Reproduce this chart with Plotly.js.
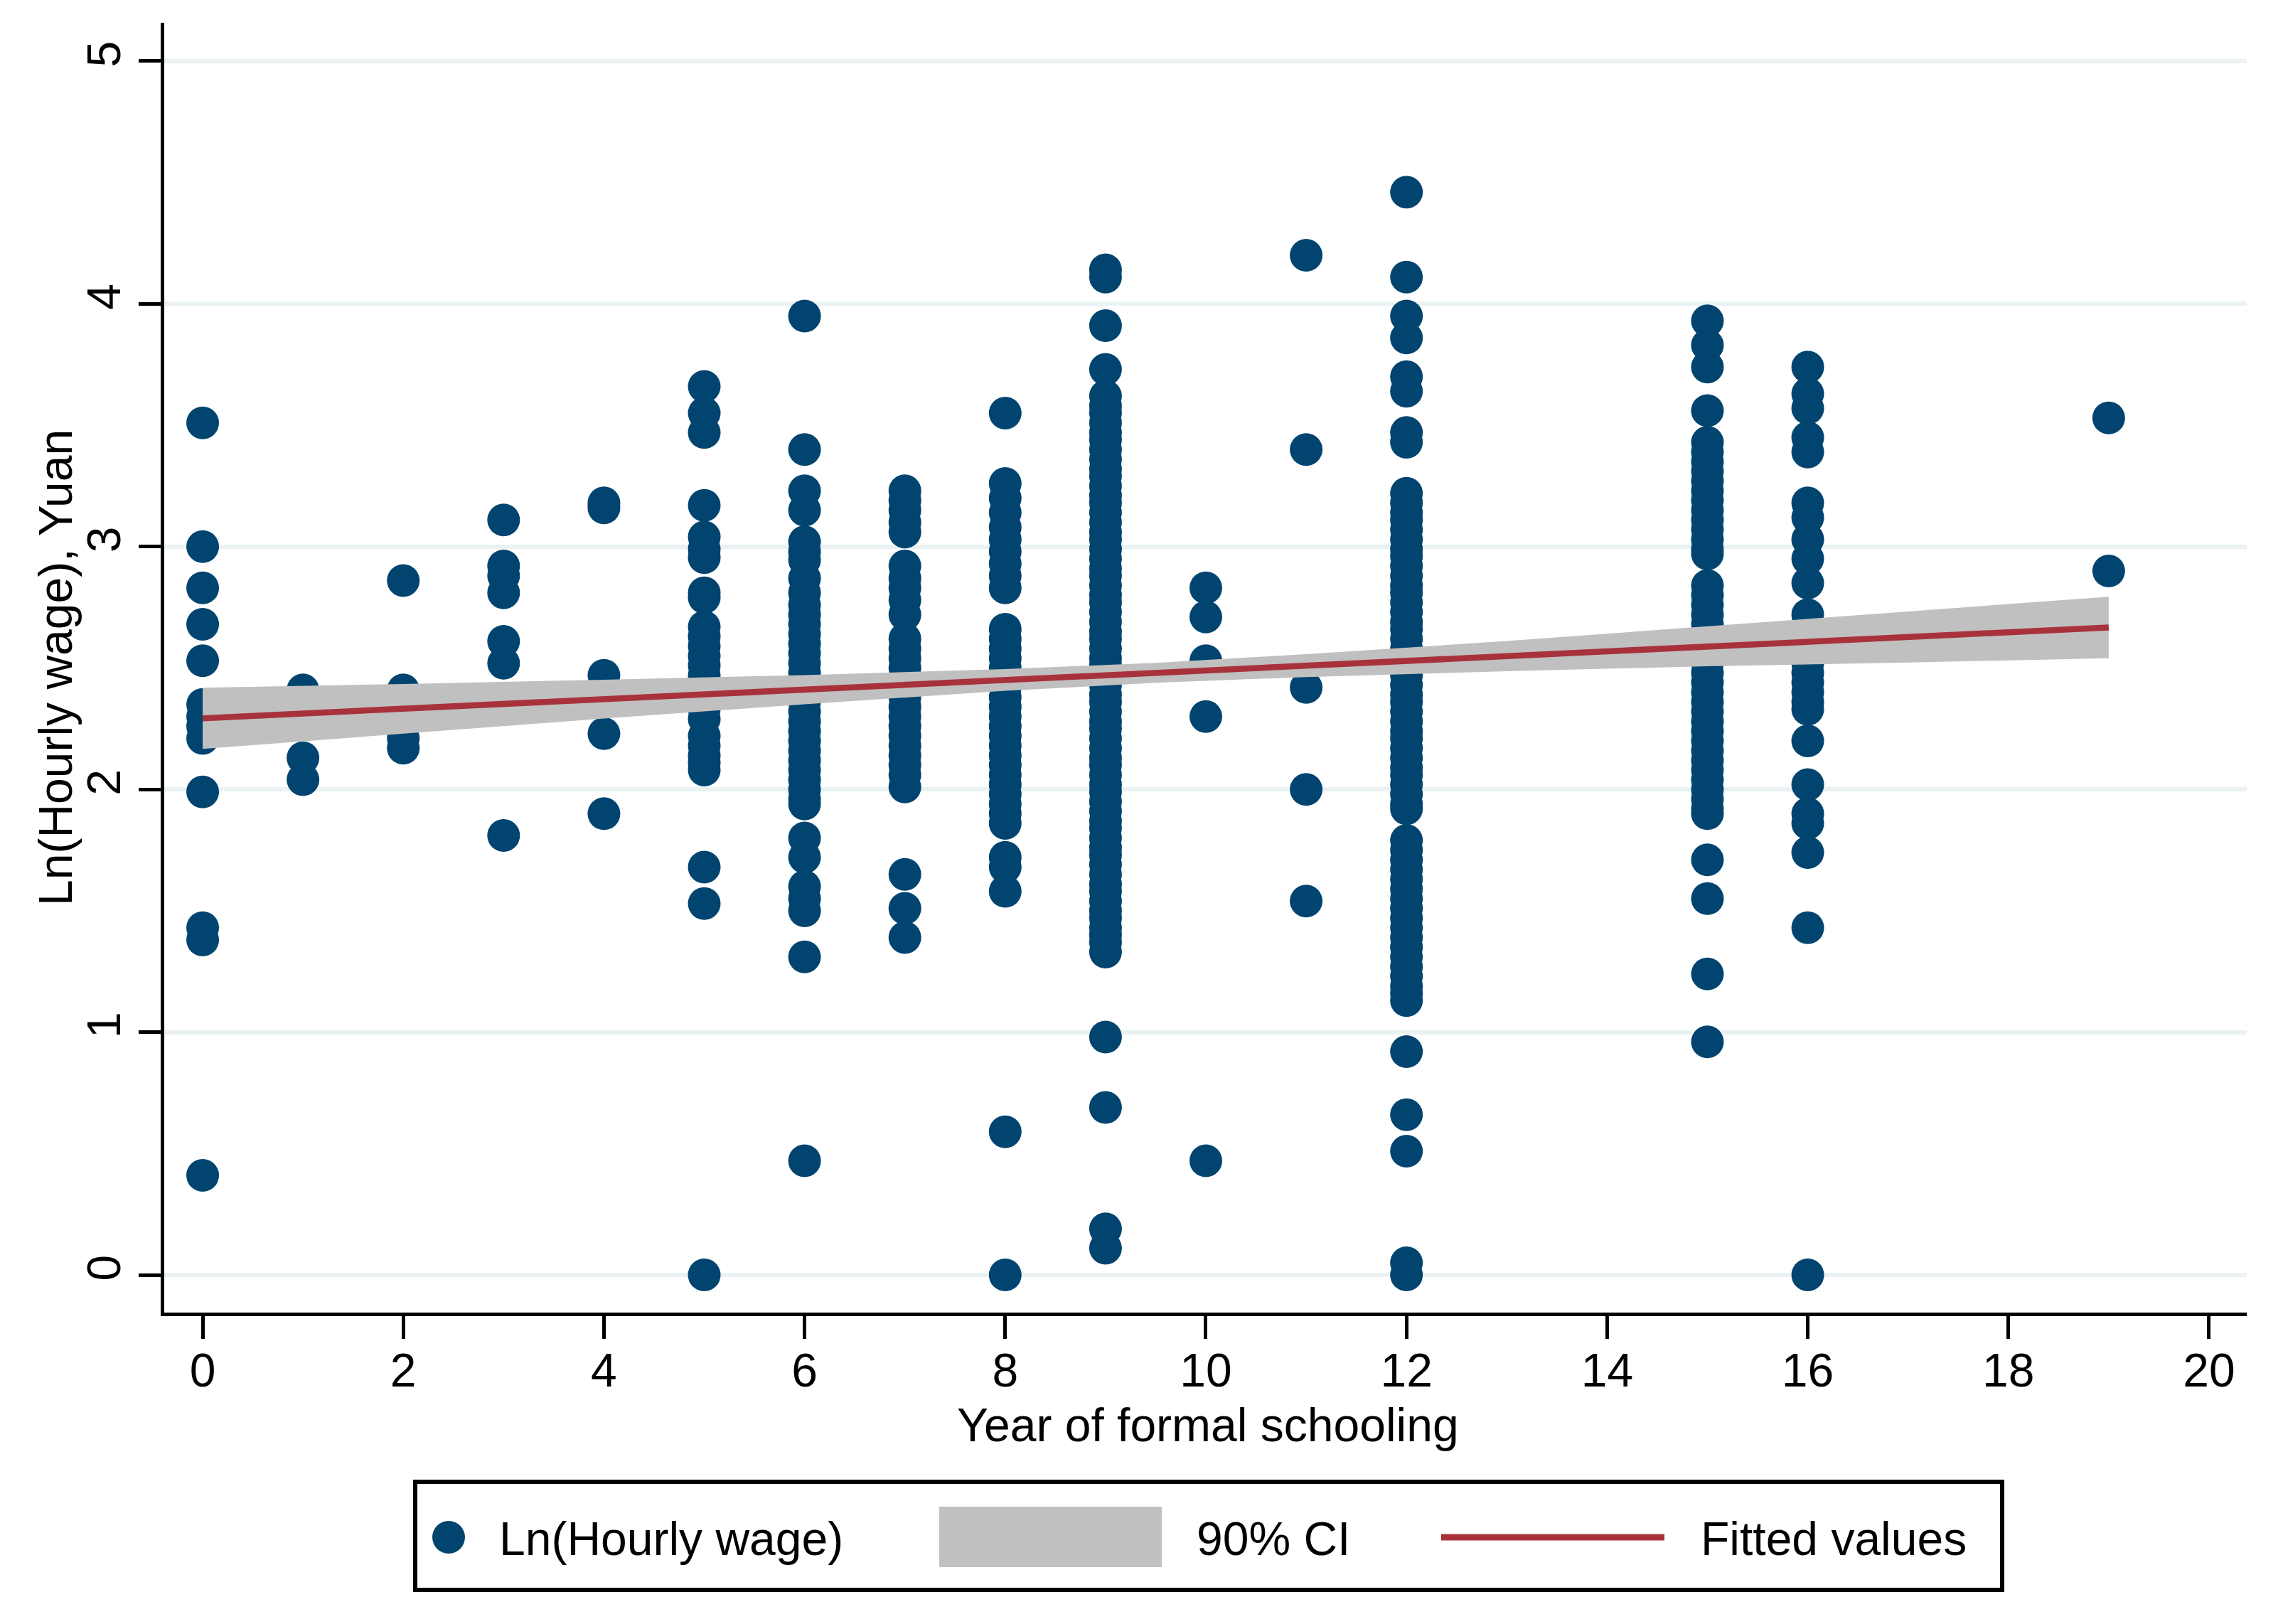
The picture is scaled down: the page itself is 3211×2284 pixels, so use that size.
<!DOCTYPE html>
<html>
<head>
<meta charset="utf-8">
<script src="https://cdn.plot.ly/plotly-3.0.1.min.js"></script>
<style>html,body{margin:0;padding:0;background:#fff;}#chart{width:3211px;height:2284px;}</style>
</head>
<body>
<div id="chart"></div>
<script>
// ---------------- data ----------------
const schoolingYears = [0, 1, 2, 3, 4, 5, 6, 7, 8, 9, 10, 11, 12, 15, 16, 19];

const wageAt0  = [3.51, 3.00, 2.83, 2.68, 2.53, 2.35, 2.30, 2.26, 2.21, 1.99, 1.43, 1.38, 0.41];
const wageAt1  = [2.41, 2.13, 2.04];
const wageAt2  = [2.86, 2.41, 2.21, 2.17];
const wageAt3  = [3.11, 2.92, 2.88, 2.81, 2.61, 2.52, 1.81];
const wageAt4  = [3.18, 3.16, 2.47, 2.40, 2.23, 1.90];
const wageAt5  = [3.66, 3.55, 3.47, 3.17, 3.04, 2.99, 2.955, 2.81, 2.79, 2.67, 2.63, 2.59, 2.55, 2.51, 2.47, 2.42, 2.37, 2.33, 2.29,
                  2.22, 2.18, 2.14, 2.11, 2.08, 1.68, 1.53, 0.00];
const wageAt6  = [3.95, 3.40, 3.23, 3.15, 3.02, 2.98, 2.945, 2.87, 2.81, 2.76, 2.72, 2.68, 2.64, 2.60, 2.56, 2.52, 2.48, 2.44,
                  2.40, 2.36, 2.32, 2.28, 2.24, 2.20, 2.16, 2.12, 2.08, 2.04, 2.00, 1.96, 1.94, 1.80, 1.72, 1.60, 1.55, 1.50, 1.31, 0.47];
const wageAt7  = [3.23, 3.19, 3.15, 3.10, 3.06, 2.92, 2.87, 2.83, 2.78, 2.72, 2.62, 2.58, 2.54, 2.50, 2.46, 2.42, 2.38, 2.34,
                  2.30, 2.26, 2.22, 2.18, 2.14, 2.10, 2.06, 2.01, 1.65, 1.51, 1.39];
const wageAt8  = [3.55, 3.26, 3.20, 3.14, 3.08, 3.03, 2.98, 2.93, 2.88, 2.83, 2.66, 2.62, 2.58, 2.54, 2.50, 2.46, 2.42, 2.38,
                  2.34, 2.30, 2.26, 2.22, 2.18, 2.14, 2.10, 2.06, 2.02, 1.98, 1.94, 1.90, 1.86, 1.72, 1.68, 1.58, 0.59, 0.00];
const wageAt9  = [4.14, 4.11, 3.91, 3.73, 3.62, 3.58, 3.55, 3.51, 3.47, 3.44, 3.40, 3.36, 3.32, 3.29, 3.25, 3.21, 3.18, 3.14,
                  3.10, 3.06, 3.03, 2.99, 2.95, 2.91, 2.88, 2.84, 2.80, 2.77, 2.73, 2.69, 2.65, 2.62, 2.58, 2.54, 2.51, 2.47,
                  2.43, 2.39, 2.36, 2.32, 2.28, 2.25, 2.21, 2.17, 2.13, 2.10, 2.06, 2.02, 1.99, 1.95, 1.91, 1.87, 1.84, 1.80,
                  1.76, 1.73, 1.69, 1.65, 1.61, 1.58, 1.54, 1.50, 1.47, 1.43, 1.40, 1.37, 1.33, 0.98, 0.69, 0.19, 0.11];
const wageAt10 = [2.83, 2.71, 2.53, 2.30, 0.47];
const wageAt11 = [4.20, 3.40, 2.42, 2.00, 1.54];
const wageAt12 = [4.46, 4.11, 3.95, 3.86, 3.70, 3.64, 3.47, 3.43, 3.22, 3.18, 3.14, 3.11, 3.07, 3.03, 2.99, 2.96, 2.92, 2.88,
                  2.84, 2.81, 2.77, 2.73, 2.69, 2.66, 2.62, 2.58, 2.54, 2.51, 2.47, 2.43, 2.39, 2.36, 2.32, 2.28, 2.24, 2.21,
                  2.17, 2.13, 2.09, 2.06, 2.02, 1.98, 1.94, 1.92, 1.79, 1.75, 1.71, 1.67, 1.63, 1.59, 1.55, 1.51, 1.47, 1.43,
                  1.39, 1.35, 1.31, 1.27, 1.23, 1.19, 1.16, 1.13, 0.92, 0.66, 0.51, 0.05, 0.00];
const wageAt15 = [3.93, 3.83, 3.74, 3.56, 3.43, 3.39, 3.35, 3.31, 3.27, 3.23, 3.19, 3.15, 3.11, 3.07, 3.03, 2.99, 2.97, 2.84,
                  2.80, 2.76, 2.72, 2.68, 2.64, 2.60, 2.56, 2.52, 2.48, 2.44, 2.40, 2.36, 2.32, 2.28, 2.24, 2.20, 2.16, 2.12,
                  2.08, 2.04, 2.00, 1.96, 1.92, 1.90, 1.71, 1.55, 1.24, 0.96];
const wageAt16 = [3.74, 3.63, 3.57, 3.45, 3.39, 3.18, 3.12, 3.03, 2.95, 2.85, 2.72, 2.68, 2.64, 2.60, 2.56, 2.52, 2.48, 2.44,
                  2.40, 2.36, 2.33, 2.20, 2.02, 1.90, 1.86, 1.74, 1.43, 0.00];
const wageAt19 = [3.53, 2.90];

// fitted line and 90% confidence band
const fitX = [0, 19];
const fitY = [2.293, 2.667];
const ciX  = [0, 2, 4, 6, 8, 9.5, 11, 13, 15, 17, 19];
const ciLo = [2.167, 2.230, 2.292, 2.351, 2.406, 2.439, 2.463, 2.487, 2.507, 2.523, 2.540];
const ciHi = [2.419, 2.434, 2.452, 2.471, 2.496, 2.521, 2.557, 2.611, 2.671, 2.733, 2.794];

const xTicks = [0, 2, 4, 6, 8, 10, 12, 14, 16, 18, 20];
const yTicks = [0, 1, 2, 3, 4, 5];

const seriesNames = ["Ln(Hourly wage)", "90% CI", "Fitted values"];
const xTitle = "Year of formal schooling";
const yTitle = "Ln(Hourly wage), Yuan";

// ---------------- build traces ----------------
const wageColumns = [wageAt0, wageAt1, wageAt2, wageAt3, wageAt4, wageAt5, wageAt6, wageAt7, wageAt8,
                     wageAt9, wageAt10, wageAt11, wageAt12, wageAt15, wageAt16, wageAt19];
const scatX = [], scatY = [];
wageColumns.forEach((col, i) => col.forEach(v => { scatX.push(schoolingYears[i]); scatY.push(v); }));

const NAVY = "#00446f", GREY = "#c0c0c0", RED = "#a8323c";
const FONT = "Liberation Sans, Arial, Helvetica, sans-serif";

const traces = [
  { type: "scatter", mode: "markers", x: scatX, y: scatY, name: seriesNames[0],
    marker: { size: 46, color: NAVY, line: { width: 0 } }, hoverinfo: "skip", cliponaxis: false },
  { type: "scatter", mode: "lines", x: ciX.concat(ciX.slice().reverse()), y: ciLo.concat(ciHi.slice().reverse()),
    name: seriesNames[1], fill: "toself", fillcolor: GREY, line: { width: 0, color: GREY }, hoverinfo: "skip" },
  { type: "scatter", mode: "lines", x: fitX, y: fitY, name: seriesNames[2],
    line: { color: RED, width: 8.5 }, hoverinfo: "skip" }
];

// ---------------- layout ----------------
const W = 3211, H = 2284;
const PL = 231, PR = 3160, PT = 32, PB = 1846;
const px = p => (p - PL) / (PR - PL);
const py = p => (PB - p) / (PB - PT);

const shapes = [
  // legend frame
  { type: "rect", xref: "paper", yref: "paper", x0: px(584), x1: px(2816), y0: py(2084), y1: py(2236),
    line: { color: "#000", width: 6 }, fillcolor: "rgba(0,0,0,0)" },
  // legend marker
  { type: "circle", xref: "paper", yref: "paper", x0: px(631 - 23), x1: px(631 + 23), y0: py(2162 + 23), y1: py(2162 - 23),
    line: { width: 0 }, fillcolor: NAVY },
  // legend band
  { type: "rect", xref: "paper", yref: "paper", x0: px(1321), x1: px(1634), y0: py(2204), y1: py(2119),
    line: { width: 0 }, fillcolor: GREY },
  // legend line
  { type: "line", xref: "paper", yref: "paper", x0: px(2027), x1: px(2341), y0: py(2162), y1: py(2162),
    line: { color: RED, width: 9 } }
];

const txtFont = { family: FONT, size: 66, color: "#000" };
const annotations = [
  { text: seriesNames[0], x: px(700), y: py(2164), xref: "paper", yref: "paper", xanchor: "left", yanchor: "middle", showarrow: false, font: txtFont },
  { text: seriesNames[1], x: px(1681), y: py(2164), xref: "paper", yref: "paper", xanchor: "left", yanchor: "middle", showarrow: false, font: txtFont },
  { text: seriesNames[2], x: px(2390), y: py(2164), xref: "paper", yref: "paper", xanchor: "left", yanchor: "middle", showarrow: false, font: txtFont },
  // axis titles
  { text: xTitle, x: px(1699), y: py(2004), xref: "paper", yref: "paper", xanchor: "center", yanchor: "middle", showarrow: false, font: txtFont },
  { text: yTitle, x: px(78), y: py(939), xref: "paper", yref: "paper", xanchor: "center", yanchor: "middle", textangle: -90, showarrow: false, font: txtFont }
];

const layout = {
  width: W, height: H,
  margin: { l: PL, r: W - PR, t: PT, b: H - PB, pad: 0 },
  paper_bgcolor: "#fff", plot_bgcolor: "#fff",
  font: { family: FONT, size: 66, color: "#000" },
  showlegend: false,
  xaxis: {
    range: [-0.383, 20.376], tickmode: "array", tickvals: xTicks, ticktext: xTicks.map(String),
    ticks: "outside", ticklen: 32, tickwidth: 5, tickcolor: "#000", ticklabelstandoff: -12,
    showline: true, linewidth: 5, linecolor: "#000", showgrid: false, zeroline: false,
    tickfont: txtFont
  },
  yaxis: {
    range: [-0.155, 5.158], tickmode: "array", tickvals: yTicks, ticktext: yTicks.map(String), tickangle: -90,
    ticks: "outside", ticklen: 31, tickwidth: 5, tickcolor: "#000",
    showline: true, linewidth: 5, linecolor: "#000",
    showgrid: true, gridcolor: "#eaf2f3", gridwidth: 6, zeroline: false,
    tickfont: txtFont
  },
  shapes: shapes,
  annotations: annotations
};

Plotly.newPlot("chart", traces, layout, { staticPlot: true, displayModeBar: false });
</script>
</body>
</html>
